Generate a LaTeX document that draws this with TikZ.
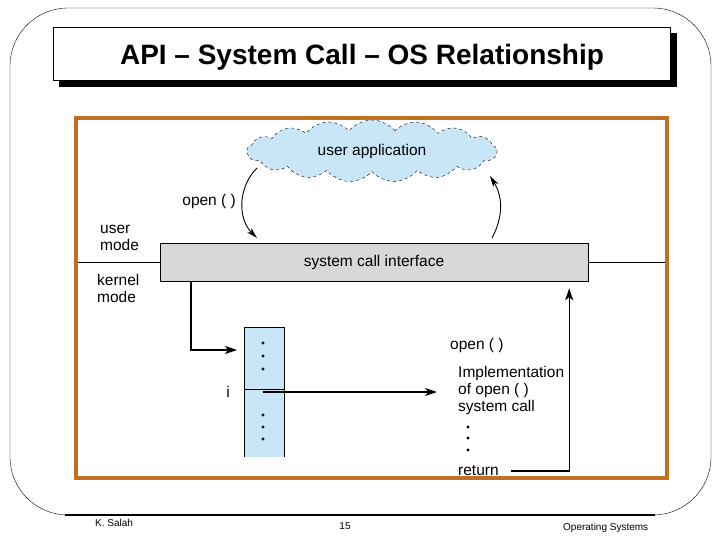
\documentclass[tikz,border=0pt]{standalone}
\usepackage{fontspec}
\setmainfont{Liberation Sans}
\usepackage{xcolor}
\usepackage{tikz}
\usetikzlibrary{arrows}
\usetikzlibrary{arrows.meta}
\usetikzlibrary{shapes.symbols}
\definecolor{frameorange}{RGB}{192,112,32}
\definecolor{appblue}{RGB}{200,230,248}
\definecolor{scigray}{RGB}{216,216,216}
\tikzset{
    tnode/.style = {align=left, inner sep=0pt, font=\fontsize{15.5}{17}\selectfont},
    title_box/.style = {rectangle, draw=black, thin, fill=white, minimum width=617pt, minimum height=53pt},
    title_text/.style = {inner sep=0pt, font=\bfseries\fontsize{28}{32}\selectfont},
    app_cloud/.style = {tnode, cloud, cloud puffs=17, cloud puff arc=100, aspect=4.2, draw=black, dashed, thin, fill=appblue, minimum width=250pt, minimum height=62pt},
    sci_box/.style = {tnode, rectangle, draw=black, thin, fill=scigray, minimum width=428pt, minimum height=38pt},
    tbl_col/.style = {rectangle, fill=appblue, minimum width=40pt, minimum height=130pt, inner sep=0pt},
    dot/.style = {circle, fill=black, inner sep=0pt, minimum size=3.4pt},
    foot/.style = {tnode, font=\fontsize{10}{12}\selectfont},
    arr/.style = {-{Stealth[length=12pt, width=8pt, inset=3pt]}, line width=1.4pt},
    carr/.style = {-{Stealth[length=11pt, width=6pt, inset=3pt]}, line width=0.9pt}
}

\begin{document}
\begin{tikzpicture}
    [-,>=stealth', x=1pt, y=-1pt]

    \useasboundingbox (0,0) rectangle (720,540);
    \draw[thin, rounded corners=58pt] (10,8) rectangle (711,515);
    \draw[line width=1.4pt] (65,515) -- (655,515);

    \fill (59,33) rectangle (677,87);
    \node[title_box] (title) at (361.5,53.5) {};
    \node[title_text] (title_txt) at (362,57) {API – System Call – OS Relationship};

    \node[app_cloud] (app) at (372,151) {user application};
    \draw[thin] (76,262) -- (667,262);
    \node[sci_box] (sci) at (374,262) {system call interface};
    \draw[frameorange, line width=4pt] (76,118) rectangle (667,478);

    \node[tnode, anchor=east] (open_lbl) at (236,201) {open ( )};
    \node[tnode, anchor=west] (user_lbl) at (100,238) {user\\mode};
    \node[tnode, anchor=west] (kernel_lbl) at (97,288) {kernel\\mode};

    \node[tbl_col] (tbl) at (264,392) {};
    \draw[thin] (tbl.south west) -- (tbl.north west) -- (tbl.north east) -- (tbl.south east);
    \draw[thin] (tbl.west |- 0,389) -- (tbl.east |- 0,389);
    \foreach \y in {343,356,369,415,427,439}
        \node[dot] (d\y) at (263,\y) {};
    \node[tnode] (i_lbl) at (228,392) {i};

    \node[tnode, anchor=west] (open_fn) at (450,345) {open ( )};
    \node[tnode, anchor=west] (impl) at (458,390) {Implementation\\of open ( )\\system call};
    \foreach \y in {427,438,450}
        \node[dot] (e\y) at (468,\y) {};
    \node[tnode, anchor=west] (ret) at (458,471) {return};

    \coordinate (call_out) at (257,168);
    \coordinate (call_in) at (257,238);
    \coordinate (ret_out) at (492,238);
    \coordinate (ret_in) at (490,176);
    \coordinate (entry) at (237,350);
    \coordinate (slot) at (263,392);

    \draw[carr] (call_out) to[bend right=45] (call_in);
    \draw[carr] (ret_out) to[bend right=30] (ret_in);
    \draw[arr] ([xshift=31pt]sci.south west) |- (entry);
    \draw[arr] (slot) -- ([xshift=-21pt]impl.west |- slot);
    \draw[arr, shorten <=12pt] (ret.east) -| ([xshift=-19pt, yshift=-7pt]sci.south east);

    \node[foot, anchor=west] (author) at (95,523) {K. Salah};
    \node[foot] (page) at (345,526) {15};
    \node[foot, anchor=west] (course) at (563,528) {Operating Systems};
\end{tikzpicture}
\end{document}
